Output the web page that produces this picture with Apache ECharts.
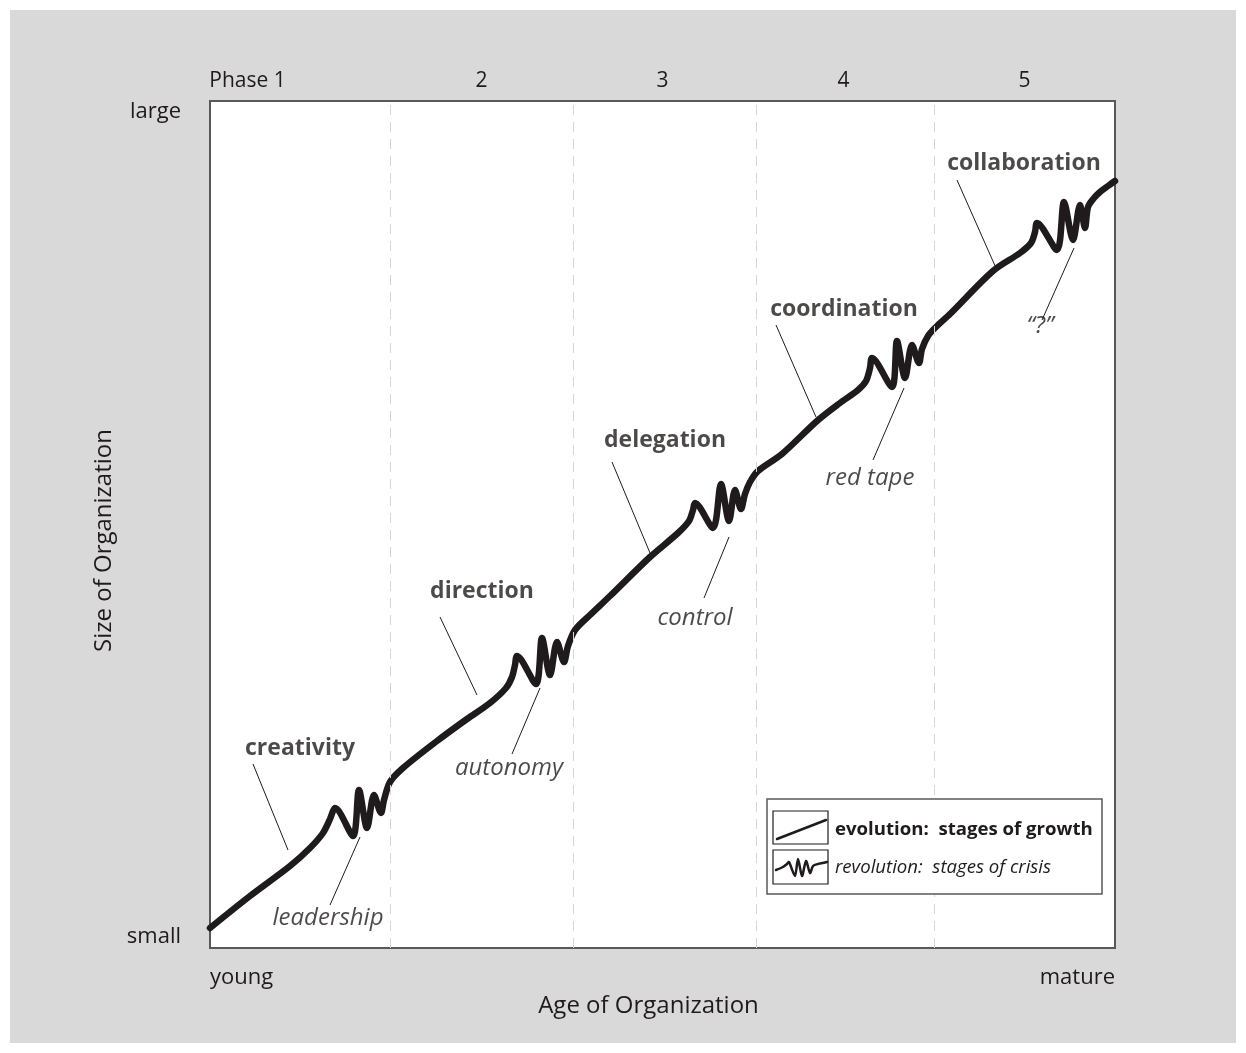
<!DOCTYPE html>
<html><head><meta charset="utf-8">
<script src="https://cdn.jsdelivr.net/npm/echarts@6/dist/echarts.min.js"></script>
<style>html,body{margin:0;padding:0;background:#fff}#c{width:1246px;height:1053px;background:#d9d9d9;box-shadow:inset 0 0 0 10px #fff}</style>
</head><body><div id="c"></div>
<script>
// ---- data (x: age units 0..905, y: size units 0..847) ----
const phaseLabels = ['Phase 1', '2', '3', '4', '5'];
const phaseBounds = [180, 363, 546, 724];

const evolution1 = [[0,20],[40,52],[80,82],[100,100],[113,115],[120,129],[123,137]];
const revolution1 = [[125,140],[143,112],[149,158],[157,120],[164,153],[171,135],[174,148]];
const evolution2 = [[180,166],[193,180],[227,207],[257,229],[280,245],[296,260],[302,271],[305,283]];
const revolution2 = [[307,292],[326,264],[332,310],[340,273],[347,306],[354,286],[358,302]];
const evolution3 = [[365,318],[380,333],[400,352],[440,391],[468,415],[479,427],[483,438]];
const revolution3 = [[485,445],[503,420],[511,464],[519,427],[525,458],[531,439],[535,454]];
const evolution4 = [[540,466],[548,477],[572,494],[607,527],[630,545],[648,558],[656,567],[660,580]];
const revolution4 = [[662,590],[682,561],[687,607],[695,570],[702,603],[709,585],[712,599]];
const evolution5 = [[718,612],[726,621],[740,634],[783,677],[810,695],[821,705],[825,716]];
const revolution5 = [[827,725],[847,698],[854,746],[863,708],[870,743],[875,720],[878,741]];
const evolutionEnd = [[884,750],[890,756],[898,762],[905,767]];

const stageNames = ['creativity', 'direction', 'delegation', 'coordination', 'collaboration'];
const stagePos = [[90,200],[272,357],[455,508],[634,639],[814,785]];
const stageLeaders = [[[43,184],[78,98]],[[230,331],[267,253]],[[402,486],[440,395]],[[566,623],[606,531]],[[747,768],[786,680]]];

const crisisNames = ['leadership', 'autonomy', 'control', 'red tape', '\u201C?\u201D'];
const crisisPos = [[118,30],[299,180],[485,330],[660,470],[830,622]];
const crisisLeaders = [[[150,111],[120,43]],[[330,260],[302,194]],[[519,411],[494,350]],[[694,560],[663,488]],[[864,700],[832,628]]];

const xEndLabels = ['young', 'mature'];
const yEndLabels = ['small', 'large'];

// ---- chart ----
const INK = '#1f1b1c';
const FONT = '"Open Sans", "Noto Sans", sans-serif';
const curve = [].concat(evolution1, revolution1, evolution2, revolution2, evolution3,
  revolution3, evolution4, revolution4, evolution5, revolution5, evolutionEnd);

const chart = echarts.init(document.getElementById('c'), null, {renderer: 'canvas'});

const leaderSeries = stageLeaders.concat(crisisLeaders).map(seg => ({
  type: 'line', data: seg, symbol: 'none', silent: true, z: 2,
  lineStyle: {color: INK, width: 1}
}));

const annotations = stageNames.map((n, i) => ({
  name: n, value: stagePos[i],
  label: {fontWeight: 'bold', fontStyle: 'normal', fontSize: 23}
})).concat(crisisNames.map((n, i) => ({
  name: n, value: crisisPos[i],
  label: {fontWeight: 'normal', fontStyle: 'italic', fontSize: 24}
})));

chart.setOption({
  animation: false,
  backgroundColor: 'transparent',
  grid: {left: 210, top: 101, width: 905, height: 847, show: true,
    backgroundColor: '#fff', borderColor: '#58595b', borderWidth: 2, outerBoundsMode: 'none'},
  xAxis: [{
    type: 'value', min: 0, max: 905, interval: 905,
    axisLine: {show: false}, axisTick: {show: false}, splitLine: {show: false},
    axisLabel: {margin: 19, fontSize: 22, color: INK, fontFamily: FONT,
      alignMinLabel: 'left', alignMaxLabel: 'right',
      formatter: v => v === 0 ? xEndLabels[0] : (v === 905 ? xEndLabels[1] : '')},
    name: 'Age of Organization', nameLocation: 'middle', nameGap: 31,
    nameTextStyle: {fontSize: 24, color: INK, fontFamily: FONT, padding: [0, 28, 0, 0]}
  }, {
    type: 'category', position: 'top', data: phaseLabels,
    axisLine: {show: false}, axisTick: {show: false}, splitLine: {show: false},
    axisLabel: {margin: 9, fontSize: 21, color: INK, fontFamily: FONT,
      formatter: (v, i) => i === 0 ? '{p|' + v + '}' : v,
      rich: {p: {fontSize: 21, color: INK, fontFamily: FONT, padding: [0, 106, 0, 0]}}}
  }],
  yAxis: {
    type: 'value', min: 0, max: 847, interval: 847,
    axisLine: {show: false}, axisTick: {show: false}, splitLine: {show: false},
    axisLabel: {margin: 29, fontSize: 22, color: INK, fontFamily: FONT,
      verticalAlignMinLabel: 'bottom', verticalAlignMaxLabel: 'top',
      formatter: v => v === 0 ? yEndLabels[0] : (v === 847 ? yEndLabels[1] : '')},
    name: 'Size of Organization', nameLocation: 'middle', nameGap: 57,
    nameTextStyle: {fontSize: 24, color: INK, fontFamily: FONT, padding: [0, 32, 0, 0]}
  },
  series: [{
    type: 'line', data: [], z: 1, silent: true,
    markLine: {symbol: 'none', silent: true, label: {show: false},
      lineStyle: {type: [10, 7], color: '#d6d6d6', width: 1},
      data: phaseBounds.map(b => ({xAxis: b}))}
  }].concat(leaderSeries, [{
    type: 'line', data: curve, smooth: 0.3, symbol: 'none', z: 3, silent: true,
    lineStyle: {color: INK, width: 6.5, cap: 'round', join: 'round'}
  }, {
    type: 'scatter', data: annotations, symbolSize: 1, z: 4, silent: true,
    itemStyle: {color: 'rgba(0,0,0,0)'},
    label: {show: true, position: 'inside', formatter: '{b}', color: INK, fontFamily: FONT}
  }]),
  graphic: [
    {type: 'rect', shape: {x: 767, y: 799, width: 335, height: 95},
      style: {fill: '#fff', stroke: '#58595b', lineWidth: 1.5}, z: 10},
    {type: 'rect', shape: {x: 773, y: 811, width: 55, height: 33},
      style: {fill: '#fff', stroke: INK, lineWidth: 1.2}, z: 11},
    {type: 'rect', shape: {x: 773, y: 850, width: 55, height: 34},
      style: {fill: '#fff', stroke: INK, lineWidth: 1.2}, z: 11},
    {type: 'line', shape: {x1: 777, y1: 839, x2: 826, y2: 820},
      style: {stroke: INK, lineWidth: 2.5, lineCap: 'round'}, z: 12},
    {type: 'polyline', shape: {smooth: 0.25, points: [[776,870],[783,867],[787,864],[789,862],[795,876],[798,859],[802,876],[806,861],[810,873],[813,866],[818,864],[827,862]]},
      style: {stroke: INK, lineWidth: 2.5, fill: null, lineJoin: 'round', lineCap: 'round'}, z: 12},
    {type: 'text', x: 835, y: 830, z: 12,
      style: {text: 'evolution:  stages of growth', fontSize: 18.6, fontWeight: 'bold', fontFamily: FONT, fill: INK, verticalAlign: 'middle'}},
    {type: 'text', x: 835, y: 868, z: 12,
      style: {text: 'revolution:  stages of crisis', fontSize: 18.6, fontStyle: 'italic', fontFamily: FONT, fill: INK, verticalAlign: 'middle'}}
  ]
});
</script></body></html>
